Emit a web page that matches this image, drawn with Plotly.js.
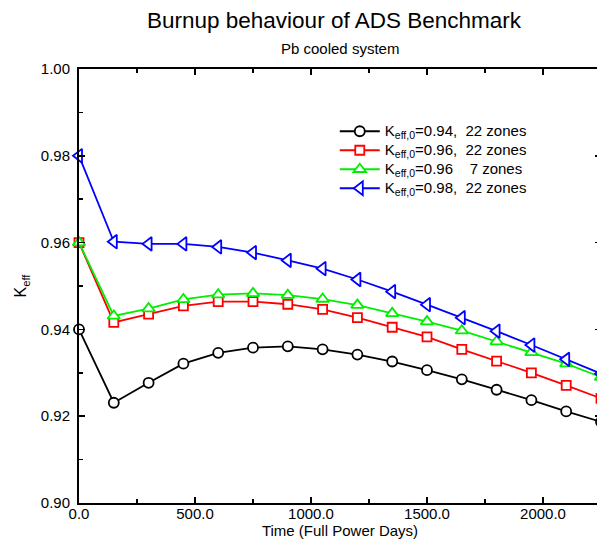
<!DOCTYPE html>
<html>
<head>
<meta charset="utf-8">
<script src="https://cdn.plot.ly/plotly-3.0.1.min.js"></script>
<style>html,body{margin:0;padding:0;overflow:hidden;background:#fff;}#chart{width:601px;height:547px;}</style>
</head>
<body>
<div id="chart"></div>
<script>
const timeFPD = [0,150,300,450,600,750,900,1050,1200,1350,1500,1650,1800,1950,2100,2250];
const keff094_22 = [0.9400,0.9231,0.9277,0.9321,0.9346,0.9358,0.9361,0.9354,0.9342,0.9326,0.9306,0.9285,0.9261,0.9237,0.9211,0.9187];
const keff096_22 = [0.9600,0.9416,0.9435,0.9454,0.9464,0.9464,0.9458,0.9446,0.9427,0.9405,0.9383,0.9354,0.9327,0.9300,0.9271,0.9241];
const keff096_7  = [0.9600,0.9431,0.9448,0.9469,0.9480,0.9483,0.9479,0.9470,0.9456,0.9437,0.9418,0.9397,0.9372,0.9347,0.9321,0.9290];
const keff098_22 = [0.9800,0.9602,0.9597,0.9597,0.9590,0.9577,0.9559,0.9540,0.9515,0.9487,0.9457,0.9427,0.9396,0.9364,0.9331,0.9298];
const seriesNames = [
  'K<sub>eff,0</sub>=0.94,&nbsp;&nbsp;22 zones',
  'K<sub>eff,0</sub>=0.96,&nbsp;&nbsp;22 zones',
  'K<sub>eff,0</sub>=0.96&nbsp;&nbsp;&nbsp;&nbsp;7 zones',
  'K<sub>eff,0</sub>=0.98,&nbsp;&nbsp;22 zones'
];
const seriesColors = ['#000000','#ff0000','#00ee00','#0000ff'];
const seriesSymbols = ['circle','square','triangle-up','triangle-left'];
const seriesSizes = [10,9,11,12];
const seriesValues = [keff094_22, keff096_22, keff096_7, keff098_22];

const traces = seriesValues.map((v,i)=>({
  x: timeFPD, y: v, type:'scatter', mode:'lines+markers',
  name: '<span style="font-size:15px">' + seriesNames[i] + '</span>',
  line:{color:seriesColors[i], width:1.8},
  marker:{symbol:seriesSymbols[i], size:seriesSizes[i], color:'#ffffff', line:{color:seriesColors[i], width:1.8}},
  cliponaxis:false
}));

const font = {family:'Liberation Sans, Arial, sans-serif', color:'#000'};
const layout = {
  width:601, height:547,
  margin:{l:79, r:0, t:69, b:44},
  paper_bgcolor:'#fff', plot_bgcolor:'#fff',
  font: Object.assign({size:15}, font),
  title:{text:'Burnup behaviour of ADS Benchmark', font:Object.assign({size:22.5}, font), x:0.4885, xref:'paper', xanchor:'center', y:0.963, yanchor:'middle'},
  showlegend:true,
  legend:{x:0.49, y:0.89, xanchor:'left', yanchor:'top', bgcolor:'rgba(0,0,0,0)', borderwidth:0, itemwidth:40, font:Object.assign({size:12.3}, font), tracegroupgap:0},
  xaxis:{range:[0,2250], dtick:500, tick0:0, tickformat:'.1f', ticks:'inside', ticklen:6, tickwidth:1.5, tickcolor:'#000',
    minor:{dtick:250, ticks:'inside', ticklen:4, tickwidth:1.5, tickcolor:'#000'},
    showline:true, linecolor:'#000', linewidth:2, mirror:'allticks', showgrid:false, zeroline:false,
    tickfont:Object.assign({size:15}, font), ticklabelstandoff:-4,
    title:{text:'Time (Full Power Days)', font:Object.assign({size:15}, font), standoff:4}},
  yaxis:{range:[0.90,1.00], dtick:0.02, tick0:0.90, tickformat:'.2f', ticks:'inside', ticklen:6, tickwidth:1.5, tickcolor:'#000',
    minor:{dtick:0.01, ticks:'inside', ticklen:4, tickwidth:1.5, tickcolor:'#000'},
    showline:true, linecolor:'#000', linewidth:2, mirror:'allticks', showgrid:false, zeroline:false,
    tickfont:Object.assign({size:15}, font), ticklabelstandoff:4,
    title:{text:'K<sub>eff</sub>', font:Object.assign({size:16}, font), standoff:10}},
  annotations:[{text:'Pb cooled system', xref:'paper', yref:'paper', x:0.5, y:1.0, yshift:21, xanchor:'center', yanchor:'middle', showarrow:false, font:Object.assign({size:15}, font)}]
};
Plotly.newPlot('chart', traces, layout, {displayModeBar:false, staticPlot:true});
</script>
</body>
</html>
